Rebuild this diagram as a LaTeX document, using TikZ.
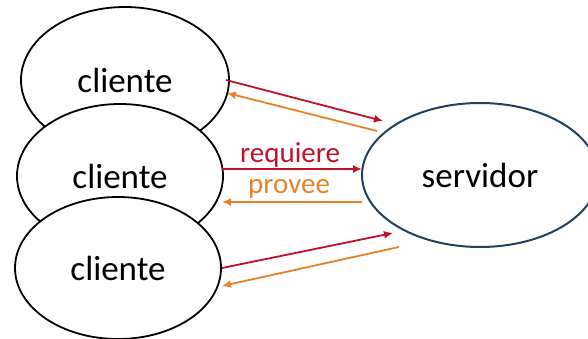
\documentclass[tikz,border=0pt]{standalone}
\usepackage{fontspec}
\setmainfont{Carlito}
\usetikzlibrary{shapes.geometric,arrows.meta}
\definecolor{reqred}{HTML}{C3102A}
\definecolor{provorange}{HTML}{E8822A}
\definecolor{servblue}{HTML}{24405F}
\begin{document}
\begin{tikzpicture}[x=1pt,y=-1pt,
  clientbox/.style={ellipse,draw=black,fill=white,line width=1.8pt,inner sep=0pt,
    font=\fontsize{35}{40}\selectfont},
  serverbox/.style={ellipse,draw=servblue,fill=white,line width=2pt,inner sep=0pt,
    font=\fontsize{35}{40}\selectfont},
  reqarrow/.style={draw=reqred,line width=1.8pt,-{Latex[length=9pt,width=8pt]}},
  provarrow/.style={draw=provorange,line width=1.8pt,-{Latex[length=9pt,width=8pt]}},
  lbl/.style={font=\fontsize{29}{32}\selectfont,inner sep=0pt,anchor=base west}
]
\useasboundingbox (0,0) rectangle (588,339);
\node[clientbox,minimum width=208pt,minimum height=146pt] (c1) at (125,80) {cliente};
\node[clientbox,minimum width=206pt,minimum height=144pt] (c2) at (120,176) {cliente};
\node[clientbox,minimum width=206pt,minimum height=142pt] (c3) at (118,268) {cliente};
\node[serverbox,minimum width=236pt,minimum height=144pt] (s) at (480,175) {servidor};

% endpoints
\coordinate (r1a) at (226,80);  \coordinate (r1b) at (383,121);
\coordinate (o1a) at (377,131); \coordinate (o1b) at (227,93);
\coordinate (r2a) at (222,169); \coordinate (r2b) at (362,169);
\coordinate (o2a) at (362,202); \coordinate (o2b) at (222,202);
\coordinate (r3a) at (222,268); \coordinate (r3b) at (393,233);
\coordinate (o3a) at (399,247); \coordinate (o3b) at (222,286);

\draw[reqarrow] (r1a) -- (r1b);
\draw[provarrow] (o1a) -- (o1b);
\draw[reqarrow] (r2a) -- (r2b);
\draw[provarrow] (o2a) -- (o2b);
\draw[reqarrow] (r3a) -- (r3b);
\draw[provarrow] (o3a) -- (o3b);

\node[lbl,text=reqred] (lreq) at (240,162) {requiere};
\node[lbl,text=provorange] (lprov) at (248,193) {provee};
\end{tikzpicture}
\end{document}
